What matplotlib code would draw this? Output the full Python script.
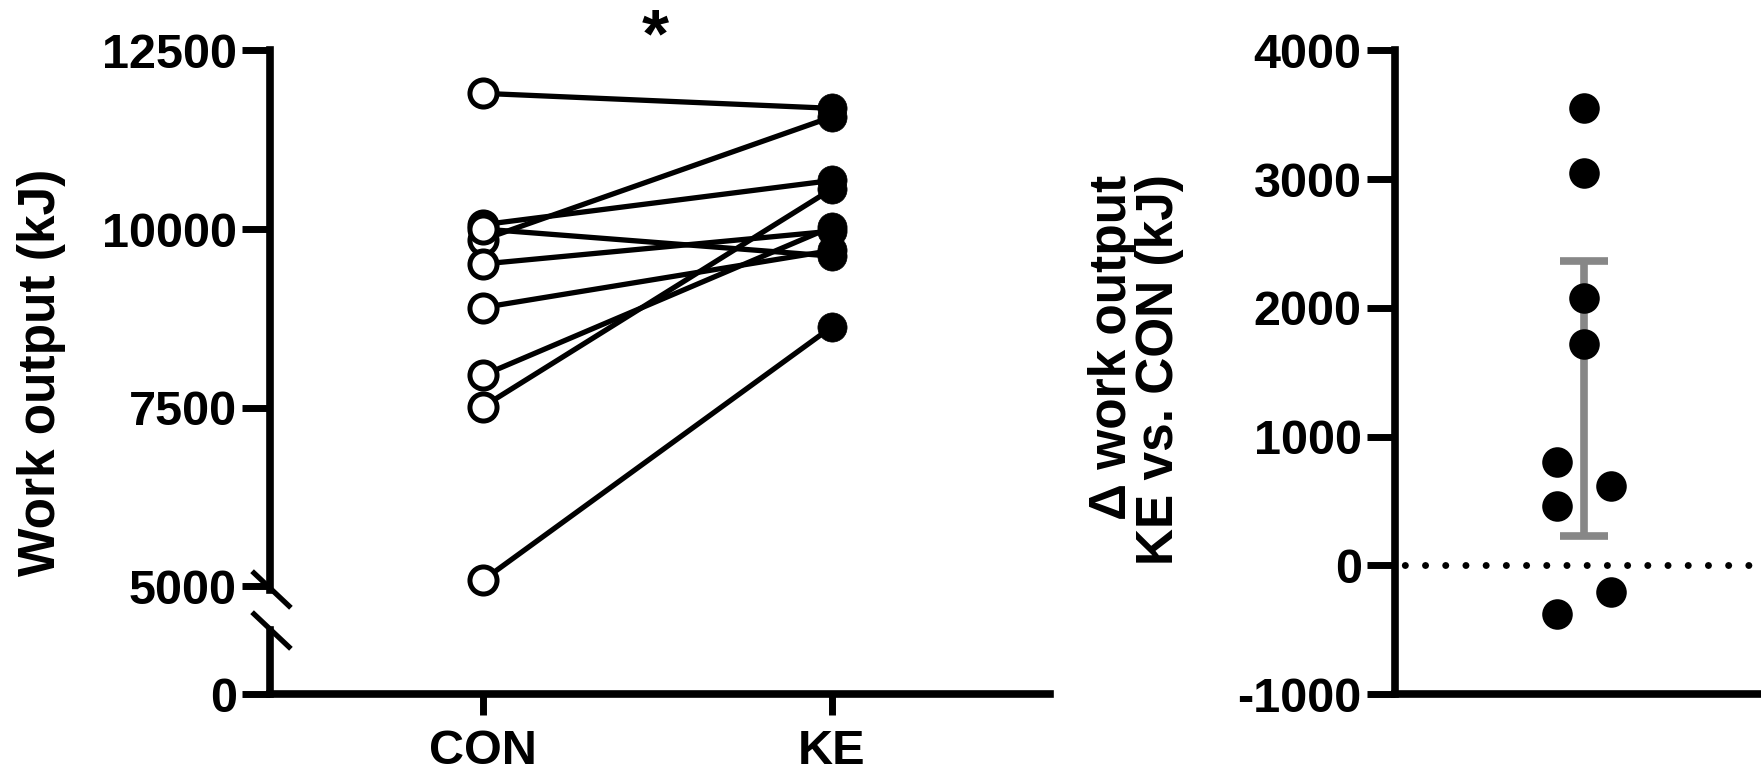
import matplotlib
matplotlib.use("Agg")
import matplotlib.pyplot as plt
from matplotlib.lines import Line2D
import numpy as np

plt.rcParams['font.family'] = ['Liberation Sans', 'DejaVu Sans']
plt.rcParams['font.weight'] = 'bold'

# ---- data ----
groups = ["CON", "KE"]
con_work = [11900, 9850, 10060, 10000, 9510, 8900, 7950, 7510, 5080]
ke_work = [11690, 11570, 10680, 9620, 9970, 9700, 10030, 10560, 8630]
delta_col = [1, 0, 1, -1, -1, -1, 0, 0, 0]   # scatter column (-1 left, 0 centre, 1 right)
ci_low = 230
ci_high = 2365
left_ticks = [5000, 7500, 10000, 12500]
left_low_ticks = [0]
right_ticks = [-1000, 0, 1000, 2000, 3000, 4000]

delta = [k - c for k, c in zip(ke_work, con_work)]
delta_mean = float(np.mean(delta))

W, H = 1761, 773
fig = plt.figure(figsize=(W / 100, H / 100), dpi=100)

def fx(px):
    return px / W

def fy(py):
    return 1 - py / H

LW_SP = 5.5
TICK_LEN = 20
TICK_W = 5.0
YT_FS = 35
XT_FS = 35
LAB_FS = 37

# ---------- left panel ----------
ax_t = fig.add_axes([fx(270), fy(590), fx(1050) - fx(270), fy(50.5) - fy(590)])
ax_b = fig.add_axes([fx(270), fy(694), fx(1050) - fx(270), fy(630) - fy(694)])

xl = (-0.61, 1.625)
ax_t.set_xlim(*xl)
ax_b.set_xlim(*xl)
ax_t.set_ylim(4944, 12500)
ax_b.set_ylim(0, 896)

for c, k in zip(con_work, ke_work):
    ax_t.plot([0, 1], [c, k], color='black', lw=3.8, zorder=2, solid_capstyle='round')
ax_t.plot(np.zeros(len(con_work)), con_work, 'o', ms=19.5, mfc='white', mec='black',
          mew=3.6, zorder=3, clip_on=False)
ax_t.plot(np.ones(len(ke_work)), ke_work, 'o', ms=21, mfc='black', mec='black',
          mew=0.5, zorder=3, clip_on=False)

for a in (ax_t, ax_b):
    a.spines['top'].set_visible(False)
    a.spines['right'].set_visible(False)
    a.spines['left'].set_linewidth(LW_SP)
    a.spines['bottom'].set_linewidth(LW_SP)
    a.patch.set_alpha(0)
    a.tick_params(axis='y', length=TICK_LEN, width=TICK_W, labelsize=YT_FS, pad=4)
ax_t.spines['bottom'].set_visible(False)
ax_t.set_xticks([])
ax_t.set_yticks(left_ticks)
ax_t.set_yticklabels([str(v) for v in left_ticks], fontweight='bold')
ax_b.set_yticks(left_low_ticks)
ax_b.set_yticklabels([str(v) for v in left_low_ticks], fontweight='bold')
ax_b.set_xticks([0, 1])
ax_b.set_xticklabels(groups, fontweight='bold', fontsize=XT_FS)
ax_b.tick_params(axis='x', length=15, width=TICK_W, pad=10)

# axis break marks
for (y0, y1) in [(573, 606), (614, 647)]:
    fig.add_artist(Line2D([fx(254), fx(289)], [fy(y0), fy(y1)], color='black',
                          lw=3.8, transform=fig.transFigure))

fig.text(fx(42), fy(372), "Work output (kJ)", rotation=90, ha='center', va='center',
         fontsize=LAB_FS, fontweight='bold')
fig.text(fx(655), fy(38), "*", ha='center', va='center', fontsize=50, fontweight='bold')

# ---------- right panel ----------
ax_r = fig.add_axes([fx(1395), fy(694), fx(1790) - fx(1395), fy(50.5) - fy(694)])
ax_r.set_xlim(-1.89, 2.06)
ax_r.set_ylim(-1000, 4000)
ax_r.spines['top'].set_visible(False)
ax_r.spines['right'].set_visible(False)
ax_r.spines['left'].set_linewidth(LW_SP)
ax_r.spines['bottom'].set_linewidth(LW_SP)
ax_r.patch.set_alpha(0)
ax_r.set_xticks([])
ax_r.set_yticks(right_ticks)
ax_r.set_yticklabels([str(v) for v in right_ticks], fontweight='bold')
ax_r.tick_params(axis='y', length=TICK_LEN, width=TICK_W, labelsize=YT_FS, pad=4)

ax_r.axhline(0, color='black', lw=5, ls=(1.5, (0.01, 2.9)), dash_capstyle='round', zorder=1)
ax_r.errorbar([0], [delta_mean], yerr=[[delta_mean - ci_low], [ci_high - delta_mean]],
              fmt='none', ecolor='#878787', elinewidth=5.5, capsize=17, capthick=5.5, zorder=2)
xs = [0.27 * c for c in delta_col]
ax_r.plot(xs, delta, 'o', ms=22, mfc='black', mec='black', mew=0, zorder=3, clip_on=False)

fig.text(fx(1136), fy(370), "\u0394 work output\nKE vs. CON (kJ)", rotation=90,
         ha='center', va='center', multialignment='right', linespacing=0.95,
         fontsize=LAB_FS, fontweight='bold')

fig.savefig("out.png", dpi=100)
